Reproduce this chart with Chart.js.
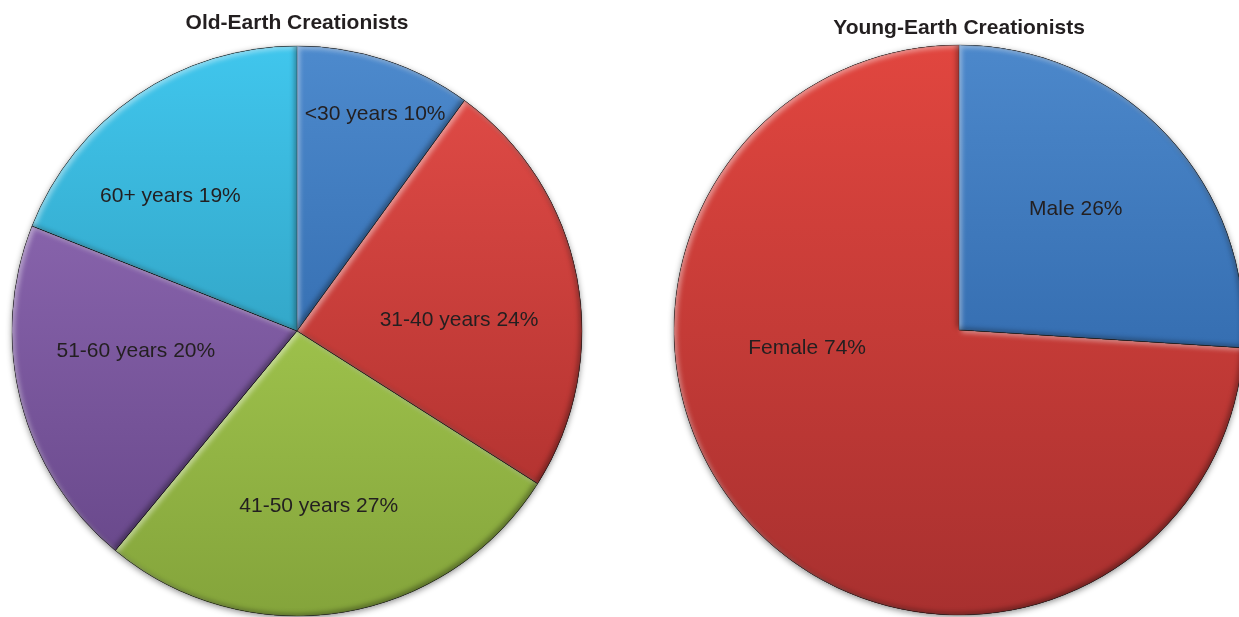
<!DOCTYPE html>
<html>
<head>
<meta charset="utf-8">
<script src="https://cdn.jsdelivr.net/npm/chart.js@4.4.1/dist/chart.umd.min.js"></script>
<style>
  html, body { margin: 0; padding: 0; background: #fff; overflow: hidden; }
  body { width: 1239px; height: 617px; position: relative; }
  canvas { position: absolute; top: 0; }
  #old_earth_pie { left: 0; }
  #young_earth_pie { left: 662px; }
</style>
</head>
<body>
<canvas id="old_earth_pie" width="594" height="620"></canvas>
<canvas id="young_earth_pie" width="594" height="620"></canvas>
<script>
// survey results, in percent
const ageGroups = ['<30 years', '31-40 years', '41-50 years', '51-60 years', '60+ years'];
const oldEarthShares = [10, 24, 27, 20, 19];

const genders = ['Male', 'Female'];
const youngEarthShares = [26, 74];

// [top, bottom] colour of each slice's vertical gradient
const agePalette = [
  ['#4d8acd', '#21579a'],
  ['#e44d48', '#a62c2a'],
  ['#b6dd5b', '#84a43b'],
  ['#9771bc', '#644486'],
  ['#40c6ed', '#2789a5']
];
const genderPalette = [
  ['#4c88cb', '#22589b'],
  ['#e1463f', '#a8302f']
];

// where each label sits: fraction along the slice's sweep, fraction of the radius
const ageLabelSpots = [[0.55, 0.81], [0.58, 0.57], [0.52, 0.62], [0.60, 0.57], [0.37, 0.65]];
const genderLabelSpots = [[0.47, 0.59], [0.636, 0.537]];

const FONT = '"Liberation Sans", Arial, sans-serif';
const TEXT_COLOR = '#231f20';

function slicePath(ctx, p) {
  ctx.moveTo(p.x, p.y);
  ctx.arc(p.x, p.y, p.outerRadius, p.startAngle, p.endAngle);
  ctx.closePath();
}

// shadow thrown from outside the slice onto its edges
function innerShadow(ctx, p, color, shift) {
  ctx.save();
  ctx.beginPath();
  ctx.rect(p.x - 1000, p.y - 1000, 2000, 2000);
  slicePath(ctx, p);
  ctx.shadowColor = color;
  ctx.shadowBlur = 5;
  ctx.shadowOffsetX = shift;
  ctx.shadowOffsetY = shift;
  ctx.fillStyle = '#000';
  ctx.fill('evenodd');
  ctx.restore();
}

const bevelPlugin = {
  id: 'bevel',
  beforeDatasetsDraw(chart) {
    const first = chart.getDatasetMeta(0).data[0];
    if (!first) return;
    const ctx = chart.ctx;
    ctx.save();
    ctx.shadowColor = 'rgba(0,0,0,0.45)';
    ctx.shadowBlur = 6;
    ctx.shadowOffsetY = 2;
    ctx.fillStyle = '#888';
    ctx.beginPath();
    ctx.arc(first.x, first.y, first.outerRadius, 0, Math.PI * 2);
    ctx.fill();
    ctx.restore();
  },
  afterDatasetsDraw(chart) {
    const ctx = chart.ctx;
    chart.getDatasetMeta(0).data.forEach(arc => {
      ctx.save();
      ctx.beginPath();
      slicePath(ctx, arc);
      ctx.clip();
      innerShadow(ctx, arc, 'rgba(255,255,255,0.45)', 2.5);
      innerShadow(ctx, arc, 'rgba(0,0,0,0.35)', -2.5);
      ctx.restore();
    });
  }
};

const sliceLabelPlugin = {
  id: 'sliceLabels',
  afterDatasetsDraw(chart, args, opts) {
    const ctx = chart.ctx;
    const values = chart.data.datasets[0].data;
    ctx.save();
    ctx.font = `21px ${FONT}`;
    ctx.fillStyle = TEXT_COLOR;
    ctx.textAlign = 'center';
    ctx.textBaseline = 'middle';
    chart.getDatasetMeta(0).data.forEach((arc, i) => {
      const [along, out] = opts.spots[i];
      const angle = arc.startAngle + along * (arc.endAngle - arc.startAngle);
      const r = out * arc.outerRadius;
      const text = `${chart.data.labels[i]} ${values[i]}%`;
      ctx.fillText(text, arc.x + Math.cos(angle) * r, arc.y + Math.sin(angle) * r);
    });
    ctx.restore();
  }
};

function sliceFill(palette) {
  return (context) => {
    const chart = context.chart;
    const area = chart.chartArea;
    if (!area) return palette[context.dataIndex][0];
    const [top, bottom] = palette[context.dataIndex];
    const grad = chart.ctx.createLinearGradient(0, area.top, 0, area.bottom);
    grad.addColorStop(0, top);
    grad.addColorStop(1, bottom);
    return grad;
  };
}

function makePie(canvasId, title, labels, values, palette, spots, titlePad, bottomPad) {
  return new Chart(document.getElementById(canvasId), {
    type: 'pie',
    data: {
      labels: labels,
      datasets: [{
        data: values,
        backgroundColor: sliceFill(palette),
        borderColor: 'rgba(0,0,0,0.3)',
        borderWidth: 1,
        hoverOffset: 0
      }]
    },
    options: {
      responsive: false,
      animation: false,
      events: [],
      radius: 285,
      layout: {
        padding: { left: 12, right: 12, top: 0, bottom: bottomPad }
      },
      plugins: {
        legend: { display: false },
        tooltip: { enabled: false },
        title: {
          display: true,
          text: title,
          color: TEXT_COLOR,
          font: { family: FONT, size: 21, weight: 'bold' },
          padding: titlePad
        },
        sliceLabels: { spots: spots }
      }
    },
    plugins: [bevelPlugin, sliceLabelPlugin]
  });
}

makePie('old_earth_pie', 'Old-Earth Creationists', ageGroups, oldEarthShares,
  agePalette, ageLabelSpots, { top: 11, bottom: 9.8 }, 4);
makePie('young_earth_pie', 'Young-Earth Creationists', genders, youngEarthShares,
  genderPalette, genderLabelSpots, { top: 15.5, bottom: 4.3 }, 5);
</script>
</body>
</html>
